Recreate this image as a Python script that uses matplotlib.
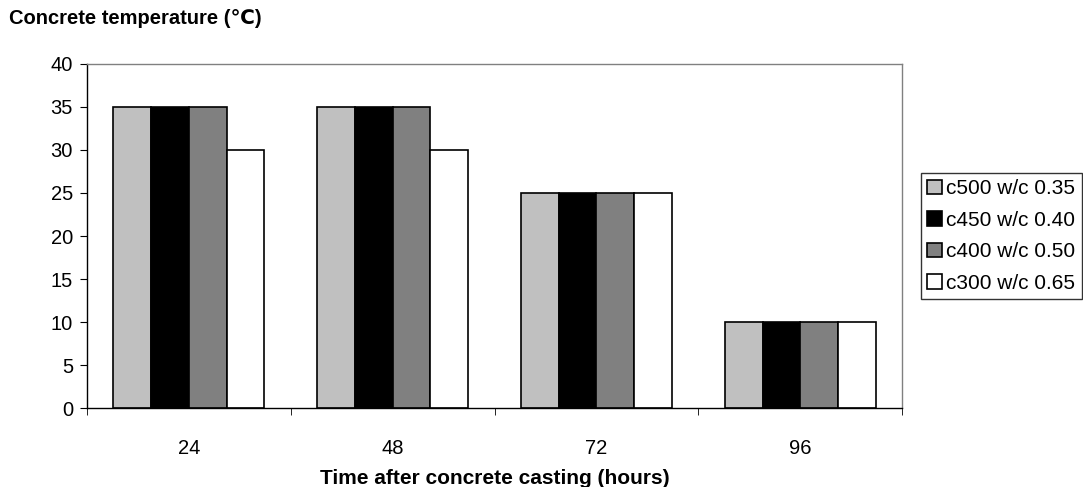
import numpy as np
import matplotlib.pyplot as plt
from matplotlib.ticker import FixedLocator

plt.rcParams['font.family'] = ['Liberation Sans', 'DejaVu Sans']

hours = ['24', '48', '72', '96']
series_names = ['c500 w/c 0.35', 'c450 w/c 0.40', 'c400 w/c 0.50', 'c300 w/c 0.65']
c500 = [35, 35, 25, 10]
c450 = [35, 35, 25, 10]
c400 = [35, 35, 25, 10]
c300 = [30, 30, 25, 10]
colors = ['#c0c0c0', '#000000', '#808080', '#ffffff']

fig = plt.figure(figsize=(10.83, 4.87), dpi=100)
ax = fig.add_axes([0.0803, 0.1622, 0.7527, 0.7064])

x = np.arange(len(hours))
w = 0.185
for i, (vals, name, col) in enumerate(zip([c500, c450, c400, c300], series_names, colors)):
    ax.bar(x + (i - 1.5) * w, vals, width=w, color=col, edgecolor='black',
           linewidth=1.2, label=name)

ax.set_xlim(-0.5, 3.5)
ax.set_ylim(0, 40)
ax.set_yticks(range(0, 41, 5))
ax.set_xticks(x)
ax.set_xticklabels(hours)
ax.xaxis.set_minor_locator(FixedLocator([-0.5, 0.5, 1.5, 2.5, 3.5]))
ax.tick_params(axis='x', which='major', length=0, pad=22, labelsize=14.5)
ax.tick_params(axis='x', which='minor', length=5, direction='out', color='black')
ax.tick_params(axis='y', length=5, direction='out', labelsize=14.5, pad=5)
for s in ax.spines.values():
    s.set_linewidth(1.0)
ax.spines['right'].set_color('#808080')
ax.spines['top'].set_color('#808080')

ax.set_xlabel('Time after concrete casting (hours)', fontsize=15, fontweight='bold', labelpad=8)
fig.text(0.008, 0.963, 'Concrete temperature (\u2103)', fontsize=14.5, fontweight='bold',
         ha='left', va='center', family=['Liberation Sans', 'DejaVu Sans'])

leg = ax.legend(loc='center left', bbox_to_anchor=(1.0233, 0.5), fontsize=15,
                frameon=True, fancybox=False, edgecolor='black',
                handlelength=0.7, handleheight=0.7, handletextpad=0.2,
                labelspacing=0.6, borderpad=0.3, borderaxespad=0)
leg.get_frame().set_linewidth(1.0)

fig.savefig('out.png', dpi=100)
